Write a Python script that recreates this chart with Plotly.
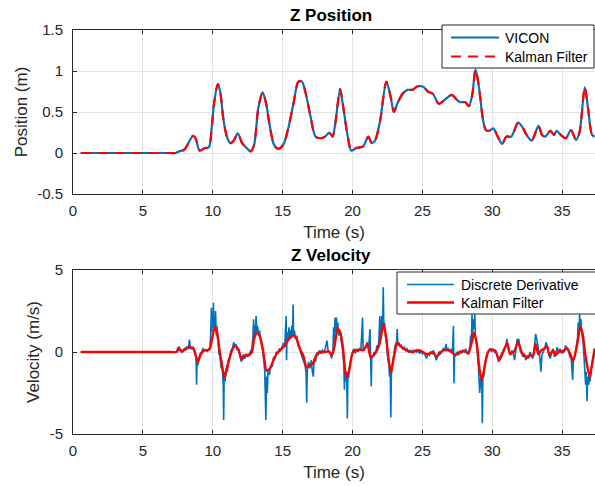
import plotly.graph_objects as go

# ---------------- data ----------------
pos_t = [0.55, 3.0, 6.0, 7.0, 7.36, 7.6, 7.97, 8.58, 8.77, 9.06, 9.43, 9.72, 9.92, 10.09, 10.36, 10.53, 10.77,
         11.01, 11.26, 11.5, 11.79, 12.1, 12.43, 12.72, 12.96, 13.26, 13.57, 13.82, 14.06, 14.38,
         14.67, 15.04, 15.4, 15.77, 16.13, 16.38, 16.62, 16.99, 17.35, 17.72, 18.04, 18.33, 18.57,
         18.76, 19.11, 19.3, 19.66, 19.91, 20.27, 20.76, 21.13, 21.37, 21.61, 21.98, 22.42, 22.71,
         22.96, 23.2, 23.57, 23.93, 24.3, 24.61, 25.03, 25.39, 25.76, 26.17, 26.61, 27.1, 27.46,
         27.71, 28.07, 28.32, 28.56, 28.8, 29.05, 29.34, 29.54, 29.78, 30.07, 30.39, 30.71, 31.0,
         31.36, 31.85, 32.21, 32.46, 32.82, 33.31, 33.56, 33.8, 34.17, 34.41, 34.61, 34.9, 35.26,
         35.63, 35.99, 36.24, 36.62, 36.85, 37.14, 37.33]
pos_z = [0.0, 0.0, 0.0, 0.0, 0.0, 0.02, 0.04, 0.21, 0.18, 0.03, 0.06, 0.07, 0.3, 0.6, 0.84, 0.75, 0.4,
         0.2, 0.12, 0.15, 0.24, 0.12, 0.06, 0.02, 0.1, 0.55, 0.74, 0.6, 0.35, 0.1,
         0.05, 0.1, 0.3, 0.6, 0.87, 0.87, 0.75, 0.45, 0.2, 0.18, 0.2, 0.25, 0.2,
         0.35, 0.78, 0.6, 0.2, 0.03, 0.06, 0.08, 0.2, 0.12, 0.15, 0.4, 0.87, 0.7,
         0.5, 0.6, 0.72, 0.77, 0.77, 0.81, 0.81, 0.75, 0.72, 0.6, 0.65, 0.71, 0.65,
         0.62, 0.62, 0.57, 0.7, 1.02, 0.8, 0.4, 0.28, 0.27, 0.3, 0.2, 0.11, 0.2,
         0.2, 0.37, 0.3, 0.22, 0.15, 0.33, 0.22, 0.2, 0.27, 0.22, 0.27, 0.22, 0.18,
         0.28, 0.16, 0.25, 0.8, 0.55, 0.22, 0.2]

kf_t = [0.55, 3.0, 6.0, 7.0, 7.42, 7.58, 7.82, 8.06, 8.41, 8.65, 8.93, 9.12, 9.36, 9.6, 9.79, 9.95, 10.14, 10.31,
        10.5, 10.66, 10.83, 11.02, 11.26, 11.49, 11.68, 11.85, 12.09, 12.32, 12.56, 12.8, 12.96,
        13.15, 13.34, 13.58, 13.86, 14.1, 14.34, 14.57, 14.93, 15.17, 15.4, 15.76, 15.95, 16.23,
        16.47, 16.71, 16.94, 17.1, 17.23, 17.46, 17.7, 18.06, 18.29, 18.53, 18.7, 18.93, 19.12,
        19.31, 19.48, 19.6, 19.79, 19.95, 20.12, 20.31, 20.55, 20.78, 21.07, 21.3, 21.61, 21.85,
        22.01, 22.2, 22.39, 22.56, 22.75, 22.96, 23.2, 23.51, 23.86, 24.34, 24.57, 24.93, 25.17,
        25.52, 25.76, 26.0, 26.23, 26.47, 26.94, 27.35, 27.7, 28.06, 28.29, 28.53, 28.7, 28.89,
        29.08, 29.24, 29.43, 29.64, 29.83, 30.19, 30.5, 30.78, 31.07, 31.26, 31.54, 31.85, 32.09,
        32.32, 32.49, 32.68, 32.91, 33.1, 33.3, 33.5, 33.7, 33.91, 34.1, 34.34, 34.53, 34.81,
        35.05, 35.33, 35.57, 35.78, 36.04, 36.3, 36.47, 36.66, 36.98, 37.15, 37.33]
kf_v = [0.0, 0.0, 0.0, 0.0, 0.0, 0.2, 0.05, 0.2, 0.3, 0.15, -0.6, -0.2, 0.1, 0.1, 0.2, 0.8, 1.52, 1.2,
        0.0, -0.8, -1.56, -1.0, -0.2, 0.3, 0.35, 0.1, -0.45, -0.2, -0.2, 0.0, 0.8,
        1.15, 1.0, 0.2, -1.15, -1.0, -0.5, -0.1, 0.2, 0.4, 0.75, 1.0, 0.9, 0.2,
        -0.2, -0.95, -0.8, -0.75, -0.6, -0.1, 0.0, 0.0, 0.05, -0.2, 0.3, 1.42, 1.2,
        0.3, -1.2, -1.52, -1.0, -0.2, 0.1, 0.1, 0.15, 0.1, 0.47, -0.34, -0.1, 0.3,
        0.8, 1.68, 1.0, -0.3, -1.26, -0.3, 0.55, 0.3, 0.1, 0.0, 0.1, 0.05, -0.1,
        -0.1, 0.0, -0.3, -0.1, 0.1, 0.1, -0.2, 0.0, 0.05, -0.1, 0.6, 1.17, 0.5,
        -1.0, -1.72, -1.0, -0.1, 0.15, 0.1, -0.5, 0.0, 0.55, -0.1, 0.0, 0.6, 0.0,
        -0.25, -0.35, -0.2, -0.25, 0.5, -0.15, 0.1, 0.2, 0.35, -0.2, 0.1, -0.2, 0.1,
        0.0, 0.25, -0.1, -0.55, 0.3, 1.55, 1.1, -0.2, -1.55, -0.7, 0.2]

dd_t = [0.55, 7.4, 7.45, 7.5, 7.55, 7.6, 7.65, 7.7, 7.8, 7.9, 8.0, 8.05, 8.15, 8.25, 8.33, 8.4,
        8.5, 8.6, 8.7, 8.8, 8.84, 8.88, 8.95, 9.0, 9.1, 9.2, 9.3, 9.4, 9.5, 9.6, 9.7, 9.8, 9.85,
        9.9, 9.93, 9.97, 10.0, 10.05, 10.08, 10.12, 10.15, 10.2, 10.25, 10.3, 10.35, 10.4, 10.45,
        10.5, 10.55, 10.6, 10.65, 10.7, 10.75, 10.78, 10.82, 10.88, 10.95, 11.0, 11.05, 11.1,
        11.2, 11.3, 11.4, 11.5, 11.55, 11.65, 11.75, 11.85, 11.95, 12.05, 12.1, 12.2, 12.3, 12.4,
        12.5, 12.6, 12.7, 12.8, 12.88, 12.92, 12.96, 13.0, 13.05, 13.1, 13.15, 13.2, 13.3, 13.35,
        13.45, 13.55, 13.65, 13.72, 13.8, 13.85, 13.9, 13.95, 14.05, 14.15, 14.25, 14.35, 14.45,
        14.55, 14.65, 14.75, 14.85, 14.95, 15.05, 15.15, 15.25, 15.28, 15.32, 15.4, 15.45, 15.5,
        15.55, 15.6, 15.65, 15.7, 15.75, 15.78, 15.85, 15.9, 16.0, 16.1, 16.2, 16.3, 16.4, 16.5,
        16.6, 16.68, 16.72, 16.76, 16.85, 16.95, 17.05, 17.12, 17.2, 17.25, 17.35, 17.45, 17.55,
        17.65, 17.75, 17.85, 17.95, 18.05, 18.17, 18.25, 18.35, 18.45, 18.5, 18.6, 18.65, 18.7,
        18.75, 18.8, 18.85, 18.9, 18.95, 19.0, 19.1, 19.2, 19.3, 19.38, 19.42, 19.46, 19.52,
        19.58, 19.63, 19.67, 19.72, 19.8, 19.9, 20.0, 20.1, 20.2, 20.3, 20.4, 20.5, 20.6, 20.72,
        20.76, 20.85, 20.95, 21.05, 21.15, 21.25, 21.3, 21.34, 21.38, 21.45, 21.55, 21.65, 21.75,
        21.85, 21.9, 21.95, 22.0, 22.05, 22.1, 22.15, 22.2, 22.24, 22.3, 22.35, 22.45, 22.5,
        22.6, 22.65, 22.7, 22.74, 22.78, 22.85, 22.95, 23.05, 23.15, 23.2, 23.24, 23.3, 23.4,
        23.5, 23.6, 23.7, 23.8, 23.9, 24.0, 24.1, 24.2, 24.3, 24.4, 24.5, 24.6, 24.7, 24.8, 24.9,
        25.0, 25.1, 25.2, 25.3, 25.4, 25.5, 25.6, 25.7, 25.8, 25.9, 26.0, 26.1, 26.2, 26.3, 26.4,
        26.5, 26.6, 26.7, 26.75, 26.85, 26.95, 27.05, 27.15, 27.22, 27.26, 27.3, 27.4, 27.5,
        27.6, 27.7, 27.8, 27.9, 28.0, 28.1, 28.2, 28.3, 28.4, 28.45, 28.5, 28.55, 28.6, 28.65,
        28.7, 28.75, 28.8, 28.9, 29.0, 29.05, 29.1, 29.15, 29.2, 29.25, 29.29, 29.33, 29.4,
        29.45, 29.55, 29.65, 29.75, 29.85, 29.95, 30.05, 30.15, 30.25, 30.35, 30.45, 30.55,
        30.65, 30.75, 30.85, 30.95, 31.05, 31.12, 31.2, 31.3, 31.4, 31.5, 31.6, 31.7, 31.78,
        31.85, 31.9, 32.0, 32.1, 32.2, 32.3, 32.4, 32.5, 32.6, 32.7, 32.8, 32.9, 33.0, 33.1,
        33.2, 33.3, 33.4, 33.48, 33.55, 33.65, 33.75, 33.85, 33.95, 34.05, 34.15, 34.25, 34.35,
        34.45, 34.55, 34.65, 34.75, 34.85, 34.95, 35.05, 35.15, 35.25, 35.35, 35.45, 35.55,
        35.65, 35.75, 35.8, 35.9, 36.0, 36.1, 36.15, 36.2, 36.25, 36.3, 36.35, 36.4, 36.5,
        36.55, 36.6, 36.68, 36.72, 36.78, 36.82, 36.9, 36.95, 37.0, 37.08, 37.15, 37.25, 37.33]
dd_v = [0.0, 0.0, 0.1, 0.3, 0.1, 0.35, 0.05, 0.15, -0.05, 0.15, 0.25, 0.1, 0.3, 0.2, 0.75, 0.2,
        0.2, 0.3, 0.1, -0.3, -2.0, -0.4, -0.8, -0.4, -0.1, 0.0, 0.2, 0.1, 0.15, 0.05, 0.2, 0.3, 1.0,
        2.7, 1.2, 2.3, 1.5, 3.0, 1.4, 2.0, 1.3, 2.5, 1.0, 1.6, 0.8, 0.5, -0.2,
        0.1, -0.6, -1.0, -0.5, -1.5, -2.0, -4.15, -1.2, -1.8, -1.3, -0.8, -1.2, -0.5,
        -0.4, 0.1, 0.2, 0.6, 0.3, 0.5, 0.1, 0.2, -0.3, -0.6, -0.3, -0.2, -0.4, -0.1,
        -0.3, -0.1, 0.1, 0.2, 1.0, 2.0, 0.8, 1.6, 1.0, 2.2, 1.2, 1.6, 1.0, 1.3,
        0.6, 0.2, -0.5, -1.2, -4.15, -1.5, -2.5, -1.2, -1.4, -0.8, -0.9, -0.3, -0.4,
        0.0, -0.1, 0.2, 0.1, 0.3, 0.5, 0.4, 2.2, -0.5, 1.2, 0.7, 1.5, 0.8,
        1.3, 0.9, 1.6, 1.0, 2.9, 1.0, 1.3, 0.8, 1.0, 0.4, 0.3, -0.1, -0.3, -0.5,
        -0.8, -1.3, -3.1, -1.2, -0.6, -1.0, -0.5, -1.2, -1.5, -0.4, -0.6, -0.1, -0.2,
        0.1, -0.1, 0.1, 0.0, 0.2, 0.7, 0.1, 0.0, -0.2, -0.4, 0.2, 1.5, 0.6,
        2.1, 1.2, 2.1, 1.3, 1.8, 1.0, 1.3, 0.6, 0.1, -0.8, -2.3, -1.0, -1.8,
        -1.2, -4.05, -1.3, -1.6, -0.8, -0.3, 0.0, 0.2, -0.1, 0.2, 0.0, 0.2, 0.1, 2.1,
        0.1, 0.2, 0.3, 0.6, 0.2, 1.4, -0.4, -2.1, -0.2, -0.3, 0.0, -0.1, 0.4,
        0.3, 1.0, 2.2, 0.8, 1.5, 2.2, 1.3, 3.95, 1.5, 1.8, 1.0, 0.5, -0.2,
        -0.8, -1.5, -1.0, -4.0, -1.4, -0.8, -0.2, 0.4, 0.6, 1.4, 0.4, 0.6, 0.3,
        0.4, 0.2, 0.3, 0.1, 0.2, 0.0, 0.1, -0.05, 0.1, 0.0, 0.15, 0.0, 0.1, -0.1, 0.1,
        -0.1, 0.0, -0.2, -0.4, -0.1, -0.2, 0.0, -0.1, 0.1, -0.2, -0.5, -0.2, 0.0, -0.1, 0.1,
        0.2, 0.1, 0.5, 0.1, 0.2, 0.0, 0.2, -0.1, 1.6, -1.9, -0.3, -0.1, 0.0,
        -0.2, 0.1, -0.1, 0.1, 0.0, 0.2, -0.1, 0.0, 0.3, 1.0, 0.5, 2.3, 1.0, 2.0,
        1.4, 2.3, 0.8, 0.4, -0.8, -1.5, -2.5, -1.6, -2.2, -1.6, -4.35, -1.4, -1.5,
        -0.8, -0.5, -0.1, 0.1, 0.2, 0.0, 0.2, 0.0, 0.1, -0.3, -0.6, -0.3,
        -0.1, 0.1, 0.2, 0.3, 0.8, 0.3, 0.0, -0.2, 0.1, -0.1, -0.5, 0.3, 0.8,
        0.5, 0.8, 0.1, -0.1, -0.3, -0.1, -0.5, -0.2, -0.4, 0.0, -0.2, -0.4, 0.2, 1.1,
        0.7, 0.1, -0.3, -1.2, -0.2, 0.0, 0.2, 0.6, 0.3, -0.2, -0.4, 0.0, 0.2,
        -0.3, 0.1, 0.3, -0.1, 0.2, -0.1, 0.1, 0.0, 0.4, 0.2, 0.1, -0.3,
        -0.4, -1.7, -0.5, -0.3, 0.3, 0.8, 1.8, 1.2, 2.3, 1.4, 2.0, 1.2, 0.6,
        -0.3, -0.8, -2.0, -1.2, -3.0, -1.5, -2.0, -1.4, -1.8, -1.0, -0.6, -0.1, 0.2]

x_ticks = [0, 5, 10, 15, 20, 25, 30, 35]
pos_ticks = [-0.5, 0, 0.5, 1, 1.5]
pos_tick_text = ["-0.5", "0", "0.5", "1", "1.5"]
vel_ticks = [-5, 0, 5]
vel_tick_text = ["-5", "0", "5"]

# ---------------- styling ----------------
W, H = 595, 486
BLUE = "#0072BD"
RED = "#FF0000"
AX = "#262626"
GRID = "#e3e3e3"
FONT = "Liberation Sans, Arial, Helvetica, sans-serif"

def px_x(p):
    return p / W

def px_y(p):
    return 1 - p / H

fig = go.Figure()

fig.add_trace(go.Scatter(x=pos_t, y=pos_z, mode="lines", name="VICON",
                         line=dict(color=BLUE, width=2.2, shape="spline", smoothing=0.8),
                         xaxis="x", yaxis="y", showlegend=False))
fig.add_trace(go.Scatter(x=pos_t, y=pos_z, mode="lines", name="Kalman Filter",
                         line=dict(color=RED, width=2.2, dash="10px,7px", shape="spline", smoothing=0.8),
                         xaxis="x", yaxis="y", showlegend=False))
fig.add_trace(go.Scatter(x=dd_t, y=dd_v, mode="lines", name="Discrete Derivative",
                         line=dict(color=BLUE, width=1.6),
                         xaxis="x2", yaxis="y2", showlegend=False))
fig.add_trace(go.Scatter(x=kf_t, y=kf_v, mode="lines", name="Kalman Filter",
                         line=dict(color=RED, width=2.4, shape="spline", smoothing=0.6),
                         xaxis="x2", yaxis="y2", showlegend=False))

xcommon = dict(range=[0, 37.35], tickvals=x_ticks, ticks="inside", ticklen=4, tickcolor=AX,
               showline=True, linecolor=AX, linewidth=1, mirror="ticks",
               showgrid=True, gridcolor=GRID, gridwidth=1, zeroline=False,
               tickfont=dict(family=FONT, size=15, color=AX),
               ticklabelstandoff=3, automargin=False,
               domain=[73 / W, 1.0])
ycommon = dict(ticks="inside", ticklen=4, tickcolor=AX,
               showline=True, linecolor=AX, linewidth=1, mirror=False,
               showgrid=True, gridcolor=GRID, gridwidth=1, zeroline=False,
               tickfont=dict(family=FONT, size=15, color=AX), ticklabelstandoff=6,
               automargin=False)

fig.update_layout(
    width=W, height=H,
    margin=dict(l=0, r=0, t=0, b=0, autoexpand=False),
    paper_bgcolor="white", plot_bgcolor="white",
    showlegend=False,
    xaxis=dict(**xcommon, anchor="y",
               title=dict(text="Time (s)", font=dict(family=FONT, size=17, color=AX), standoff=8)),
    yaxis=dict(**ycommon, anchor="x", range=[-0.5, 1.5], tickvals=pos_ticks, ticktext=pos_tick_text,
               domain=[px_y(194), px_y(30)],
               title=dict(text="Position (m)", font=dict(family=FONT, size=17, color=AX), standoff=5)),
    xaxis2=dict(**xcommon, anchor="y2",
                title=dict(text="Time (s)", font=dict(family=FONT, size=17, color=AX), standoff=8)),
    yaxis2=dict(**ycommon, anchor="x2", range=[-5, 5], tickvals=vel_ticks, ticktext=vel_tick_text,
                domain=[px_y(434), px_y(270)],
                title=dict(text="Velocity (m/s)", font=dict(family=FONT, size=17, color=AX), standoff=5)),
)

# Titles
fig.add_annotation(text="<b>Z Position</b>", x=px_x(331), y=px_y(16), xref="paper", yref="paper",
                   showarrow=False, font=dict(family=FONT, size=17, color="black"),
                   xanchor="center", yanchor="middle")
fig.add_annotation(text="<b>Z Velocity</b>", x=px_x(331), y=px_y(255), xref="paper", yref="paper",
                   showarrow=False, font=dict(family=FONT, size=17, color="black"),
                   xanchor="center", yanchor="middle")

# Legends (drawn boxes)
def legend_box(x0, y0, x1, y1, items, line_x0, line_x1, text_x):
    fig.add_shape(type="rect", xref="paper", yref="paper",
                  x0=px_x(x0), x1=px_x(x1), y0=px_y(y1), y1=px_y(y0),
                  line=dict(color=AX, width=1), fillcolor="white", layer="above")
    for (label, color, dash, width, yc) in items:
        fig.add_shape(type="line", xref="paper", yref="paper",
                      x0=px_x(line_x0), x1=px_x(line_x1), y0=px_y(yc), y1=px_y(yc),
                      line=dict(color=color, width=width, dash=dash), layer="above")
        fig.add_annotation(text=label, x=px_x(text_x), y=px_y(yc), xref="paper", yref="paper",
                           showarrow=False, xanchor="left", yanchor="middle",
                           font=dict(family=FONT, size=14, color="black"))

legend_box(442, 25, 594, 68,
           [("VICON", BLUE, "solid", 2.2, 37.5), ("Kalman Filter", RED, "10px,7px", 2.2, 56.5)],
           451, 499, 503)
legend_box(397, 272, 600, 314,
           [("Discrete Derivative", BLUE, "solid", 1.5, 284.5), ("Kalman Filter", RED, "solid", 2.4, 302.5)],
           407, 454, 459)

fig.write_html("out.html")
